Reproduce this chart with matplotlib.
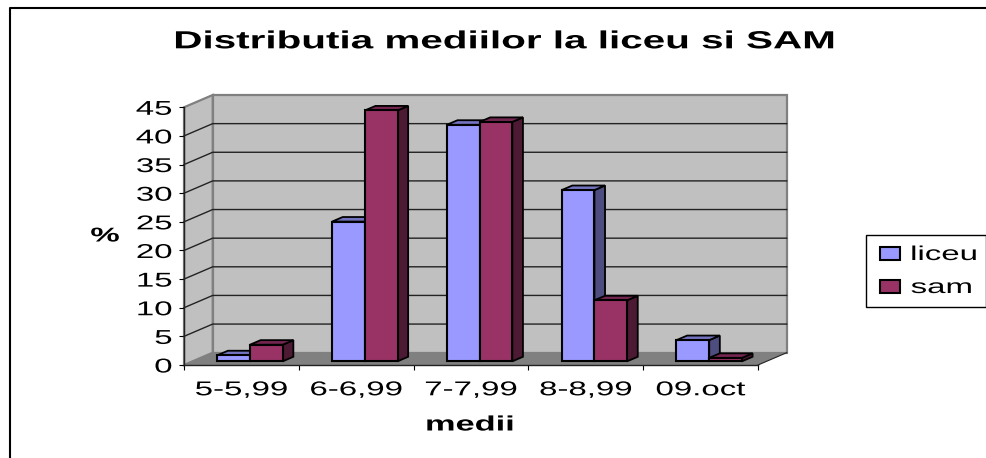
import matplotlib
matplotlib.use('Agg')
import matplotlib.pyplot as plt
from matplotlib.legend_handler import HandlerPatch
from matplotlib.lines import Line2D
from matplotlib.patches import Patch, Polygon, Rectangle
from matplotlib.patheffects import AbstractPathEffect
from matplotlib.transforms import Affine2D

plt.rcParams['font.family'] = ['Liberation Sans', 'DejaVu Sans']

categorii = ['5-5,99', '6-6,99', '7-7,99', '8-8,99', '09.oct']
liceu = [1.05, 24.4, 41.3, 29.9, 3.7]
sam = [2.9, 43.8, 41.8, 10.65, 0.6]
y_ticks = [0, 5, 10, 15, 20, 25, 30, 35, 40, 45]

# depth of the fake 3d box, in data units
DX = 28.7 / 114.8
DY = 12.3 / 5.727
BAR_W = 0.285
BAR_FRONT = 0.3
BAR_DEPTH = 0.37
SX = 1.65


class Stretch(AbstractPathEffect):
    # the chart was pasted wider than tall, so the glyphs are wide too
    def __init__(self, sx=SX, anchor='center'):
        super().__init__()
        self.sx = sx
        self.anchor = anchor

    def draw_path(self, renderer, gc, tpath, affine, rgbFace=None):
        box = tpath.get_extents(affine)
        x = {'left': box.x0, 'center': (box.x0 + box.x1) / 2, 'right': box.x1}[self.anchor]
        affine = affine + Affine2D().translate(-x, 0).scale(self.sx, 1).translate(x, 0)
        renderer.draw_path(gc, tpath, affine, rgbFace)


def p(x, y, d=0.0):
    return (x + d * DX, y + d * DY)


def poly(ax, pts, color, ec='none', lw=0.0, z=1):
    ax.add_patch(Polygon(pts, closed=True, fc=color, ec=ec, lw=lw, zorder=z,
                         clip_on=False, joinstyle='miter'))


def bar3d(ax, x, v, front, side, top, z):
    d0 = BAR_FRONT
    d1 = BAR_FRONT + BAR_DEPTH
    w = BAR_W
    poly(ax, [p(x + w, 0, d0), p(x + w, 0, d1), p(x + w, v, d1), p(x + w, v, d0)],
         side, 'black', 1.3, z)
    poly(ax, [p(x, v, d0), p(x + w, v, d0), p(x + w, v, d1), p(x, v, d1)],
         top, 'black', 1.3, z)
    poly(ax, [p(x, 0, d0), p(x + w, 0, d0), p(x + w, v, d0), p(x, v, d0)],
         front, 'black', 1.5, z + 0.1)


def legend_box(legend, orig_handle, xdescent, ydescent, width, height, fontsize):
    return Rectangle((width - fontsize, 0), fontsize, height)


fig = plt.figure(figsize=(9.86, 4.58), dpi=100, facecolor='white')
ax = fig.add_axes([184 / 986, (458 - 365) / 458, 574 / 986, 257.7 / 458])
ax.set_xlim(0, 5)
ax.set_ylim(0, 45)
ax.patch.set_visible(False)
for s in ax.spines.values():
    s.set_visible(False)

# walls and floor
poly(ax, [p(0, 0, 1), p(5, 0, 1), p(5, 45, 1), p(0, 45, 1)], '#C0C0C0', '#808080', 1.6, 1)
poly(ax, [p(0, 0, 0), p(0, 0, 1), p(0, 45, 1), p(0, 45, 0)], '#C0C0C0', '#808080', 1.6, 1)
for v in y_ticks[1:-1]:
    ax.plot([p(0, v)[0], p(0, v, 1)[0], p(5, v, 1)[0]],
            [p(0, v)[1], p(0, v, 1)[1], p(5, v, 1)[1]],
            color='#222222', lw=1.0, zorder=2, clip_on=False)
poly(ax, [p(0, 0, 0), p(5, 0, 0), p(5, 0, 1), p(0, 0, 1)], '#808080', z=3)
ax.plot([p(5, 0)[0], p(5, 0, 1)[0]], [p(5, 0)[1], p(5, 0, 1)[1]],
        color='#222222', lw=0.8, zorder=3, clip_on=False)

for i in range(len(categorii)):
    x0 = i + 0.5 - BAR_W
    bar3d(ax, x0, liceu[i], '#9999FF', '#4D4D80', '#7373BF', 4 + i * 2)
    bar3d(ax, x0 + BAR_W, sam[i], '#993366', '#4D1A33', '#732650', 5 + i * 2)

ax.plot([0, 0], [0, 45], color='#222222', lw=1.0, zorder=3, clip_on=False)
ax.plot([0, 5], [0, 0], color='#222222', lw=1.0, zorder=3, clip_on=False)

ax.set_yticks(y_ticks)
ax.set_xticks(range(6))
ax.set_xticklabels([])
ax.set_xticks([i + 0.5 for i in range(5)], minor=True)
ax.set_xticklabels(categorii, minor=True)
ax.tick_params(axis='y', labelsize=14.4, length=3.6, width=0.8, pad=5)
ax.tick_params(axis='x', which='major', length=3.6, width=0.8)
ax.tick_params(axis='x', which='minor', labelsize=14.4, length=0, pad=11)
for t in ax.get_yticklabels():
    t.set_path_effects([Stretch(anchor='right')])
for t in ax.get_xticklabels(minor=True):
    t.set_path_effects([Stretch()])

fig.text(504.5 / 986, 1 - 48.3 / 458, 'Distributia mediilor la liceu si SAM',
         ha='center', va='baseline', fontsize=17.8, fontweight='bold',
         path_effects=[Stretch(sx=1.635)])
fig.text(105 / 986, 1 - 236 / 458, '%', ha='center', va='center', fontsize=14.4,
         fontweight='bold', path_effects=[Stretch()])
fig.text(470 / 986, 1 - 425 / 458, 'medii', ha='center', va='center', fontsize=15,
         fontweight='bold', path_effects=[Stretch()])

handles = [Patch(fc='#9999FF', ec='black', lw=1.5, label='liceu'),
           Patch(fc='#993366', ec='black', lw=1.5, label='sam')]
leg = fig.legend(handles=handles, loc='upper left',
                 bbox_to_anchor=(866 / 986, 1 - 301 / 458, 119.5 / 986, 66 / 458),
                 bbox_transform=fig.transFigure, mode='expand', borderaxespad=0,
                 fontsize=14.4, fancybox=False, framealpha=1, edgecolor='black',
                 handlelength=1.2, handleheight=0.6, labelspacing=0.7, borderpad=0.5,
                 handletextpad=0.55,
                 handler_map={Patch: HandlerPatch(patch_func=legend_box)})
for t in leg.get_texts():
    t.set_path_effects([Stretch(anchor='left')])

# frame of the pasted chart, only left and top are inside the crop
fig.add_artist(Line2D([9.5 / 986, 9.5 / 986, 1], [0, 1 - 8 / 458, 1 - 8 / 458],
                      color='black', lw=1.5))

fig.savefig('out.png', dpi=100)
